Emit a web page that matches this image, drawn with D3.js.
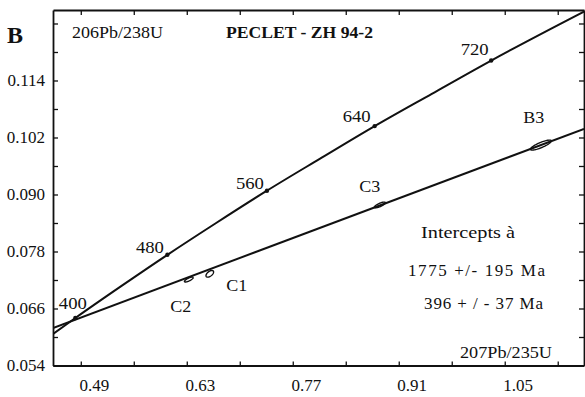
<!DOCTYPE html>
<html><head><meta charset="utf-8">
<script src="https://cdn.jsdelivr.net/npm/d3@7"></script>
<style>
body{margin:0;background:#fff}
svg{display:block}
</style>
</head><body>
<svg id="c" width="585" height="397" font-family="Liberation Serif"></svg>
<script>
// ---- data ----
const xTicks = [0.49, 0.56, 0.63, 0.70, 0.77, 0.84, 0.91, 0.98, 1.05, 1.12];
const xTickLabels = ["0.49", "", "0.63", "", "0.77", "", "0.91", "", "1.05", ""];
const yTicks = [0.054, 0.060, 0.066, 0.072, 0.078, 0.084, 0.090, 0.096, 0.102, 0.108, 0.114, 0.120, 0.126];
const yTickLabels = ["0.054", "", "0.066", "", "0.078", "", "0.090", "", "0.102", "", "0.114", "", ""];

const concordiaAges = [380, 400, 440, 480, 520, 560, 600, 640, 680, 720, 780];
const concordiaX = [0.4539, 0.4828, 0.5424, 0.6044, 0.6688, 0.7359, 0.8056, 0.8782, 0.9537, 1.0321, 1.1559];
const concordiaY = [0.0607, 0.0640, 0.0706, 0.0773, 0.0840, 0.0908, 0.0975, 0.1044, 0.1112, 0.1182, 0.1286];
const labeledAges = [400, 480, 560, 640, 720];

const discordiaX = [0.4533, 1.1547];
const discordiaY = [0.0619, 0.1038];

const sampleNames = ["C2", "C1", "C3", "B3"];
const sampleX = [0.6327, 0.6604, 0.8850, 1.0977];
const sampleY = [0.0721, 0.0733, 0.0878, 0.1004];
const sampleErrX = [0.0058, 0.0050, 0.0072, 0.0138];
const sampleErrY = [0.00052, 0.00070, 0.00060, 0.00105];
const sampleRho = [0.78, 0.55, 0.78, 0.83];

// ---- layout ----
const L = 53, R = 584, T = 10, B = 365.5;
const FONT = '"Liberation Serif"';
const INK = "#111";
const svg = d3.select("#c");

const x = d3.scaleLinear().domain([0.4533, 1.1547]).range([L, R]);
const y = d3.scaleLinear().domain([0.054, 0.12884]).range([B, T]);

svg.append("defs").append("clipPath").attr("id", "plot")
  .append("rect").attr("x", L).attr("y", T).attr("width", R - L).attr("height", B - T);

const fmtX = d => xTickLabels[xTicks.indexOf(d)] || "";
const fmtY = d => yTickLabels[yTicks.indexOf(d)] || "";

function styleAxis(g) {
  g.attr("font-family", "Liberation Serif").attr("font-size", 17);
  g.select(".domain").attr("stroke", INK).attr("stroke-width", 1.8);
  g.selectAll(".tick line").attr("stroke", INK).attr("stroke-width", 1.3);
  g.selectAll("text").style("font-family", FONT).attr("fill", INK);
}

const gB = svg.append("g").attr("transform", `translate(0,${B})`)
  .call(d3.axisBottom(x).tickValues(xTicks).tickFormat(fmtX).tickSizeInner(-4).tickSizeOuter(0).tickPadding(13.5));
styleAxis(gB);
gB.selectAll("text").attr("dx", 13);

const gT = svg.append("g").attr("transform", `translate(0,${T})`)
  .call(d3.axisTop(x).tickValues(xTicks).tickFormat("").tickSizeInner(-5).tickSizeOuter(0));
styleAxis(gT);

const gL = svg.append("g").attr("transform", `translate(${L},0)`)
  .call(d3.axisLeft(y).tickValues(yTicks).tickFormat(fmtY).tickSizeInner(-5).tickSizeOuter(0).tickPadding(8));
styleAxis(gL);

const gR = svg.append("g").attr("transform", `translate(${R},0)`)
  .call(d3.axisRight(y).tickValues(yTicks).tickFormat("").tickSizeInner(-5).tickSizeOuter(0));
styleAxis(gR);

// curves
const plot = svg.append("g").attr("clip-path", "url(#plot)");
const straight = d3.line().x(d => x(d[0])).y(d => y(d[1]));
const smooth = d3.line().x(d => x(d[0])).y(d => y(d[1])).curve(d3.curveMonotoneX);

plot.append("path")
  .datum(discordiaX.map((v, i) => [v, discordiaY[i]]))
  .attr("d", straight).attr("fill", "none").attr("stroke", INK).attr("stroke-width", 2);

plot.append("path")
  .datum(concordiaX.map((v, i) => [v, concordiaY[i]]))
  .attr("d", smooth).attr("fill", "none").attr("stroke", INK).attr("stroke-width", 2);

function txt(xp, yp, size, str, len, bold, adj, anchor) {
  const t = svg.append("text").attr("x", xp).attr("y", yp).attr("font-size", size)
    .attr("font-family", "Liberation Serif").style("font-family", FONT).attr("fill", INK).text(str);
  if (bold) t.attr("font-weight", "bold");
  if (anchor) t.attr("text-anchor", anchor);
  if (len) t.attr("textLength", len).attr("lengthAdjust", adj || "spacingAndGlyphs");
  return t;
}

// age dots + labels
const ageLabelOffset = {400: [-2.5, -15], 480: [-17.5, -8], 560: [-17, -7], 640: [-18, -9.5], 720: [-16.5, -11]};
labeledAges.forEach(a => {
  const i = concordiaAges.indexOf(a);
  const px = x(concordiaX[i]), py = y(concordiaY[i]);
  svg.append("circle").attr("cx", px).attr("cy", py).attr("r", 2.2).attr("fill", INK);
  const o = ageLabelOffset[a];
  txt(px + o[0], py + o[1] + 5.8, 17, String(a), 28, false, null, "middle");
});

// error ellipses
const sampleLabelOffset = {C2: [-8, 27], C1: [27, 11], C3: [-10, -18.5], B3: [-7, -27.5]};
sampleNames.forEach((name, i) => {
  const pts = d3.range(0, 73).map(k => {
    const th = k / 72 * 2 * Math.PI;
    const dx = sampleErrX[i] * Math.cos(th);
    const dy = sampleErrY[i] * (sampleRho[i] * Math.cos(th) + Math.sqrt(1 - sampleRho[i] ** 2) * Math.sin(th));
    return [sampleX[i] + dx, sampleY[i] + dy];
  });
  svg.append("path").datum(pts)
    .attr("d", straight)
    .attr("fill", "none").attr("stroke", INK).attr("stroke-width", 1.4);
  const o = sampleLabelOffset[name];
  txt(x(sampleX[i]) + o[0], y(sampleY[i]) + o[1] + 5.8, 17, name, 21, false, null, "middle");
});

// texts
txt(7, 43, 24, "B", 0, true);
txt(72, 38, 16.5, "206Pb/238U", 91);
txt(226, 38, 16.5, "PECLET - ZH 94-2", 147, true);
txt(421, 238, 17, "Intercepts à", 94);
txt(408, 276, 17, "1775  +/- 195  Ma", 137, false, "spacing");
txt(424, 308.5, 17, "396 + / -  37  Ma", 119, false, "spacing");
txt(460, 358, 16.5, "207Pb/235U", 92);
</script>
</body></html>
